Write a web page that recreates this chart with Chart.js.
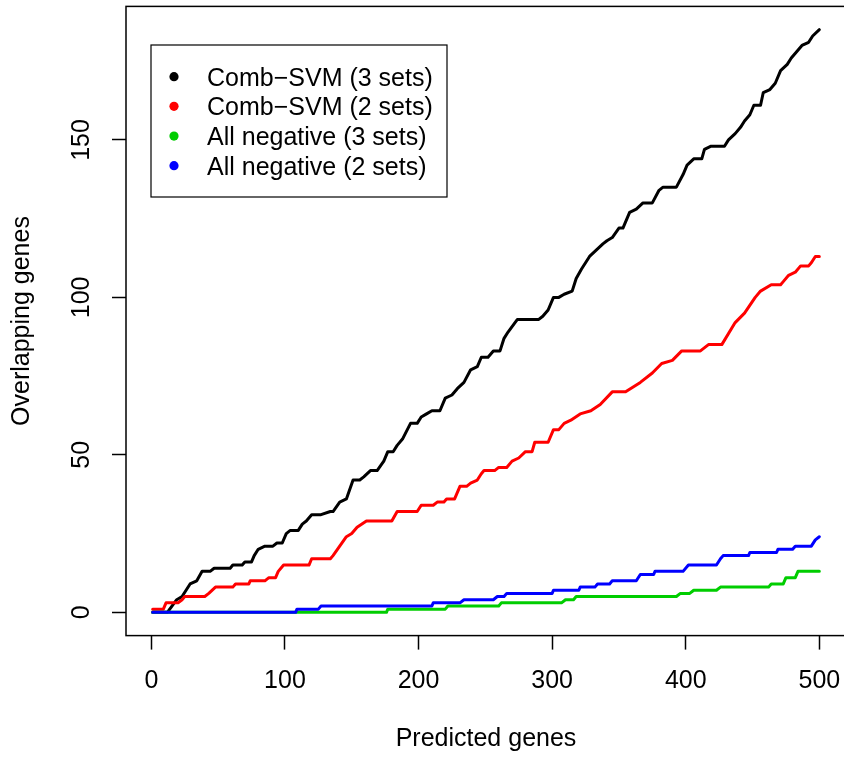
<!DOCTYPE html>
<html>
<head>
<meta charset="utf-8">
<script src="https://cdn.jsdelivr.net/npm/chart.js@4/dist/chart.umd.min.js"></script>
<style>
  html, body { margin: 0; padding: 0; background: #ffffff; overflow: hidden; }
  #wrap { width: 860px; height: 757px; position: relative; }
</style>
</head>
<body>
<div id="wrap"><canvas id="c" width="860" height="757"></canvas></div>
<script>
// ---- data (x = predicted genes, y = overlapping genes) ----
const seriesLabels = ['Comb\u2212SVM (3 sets)', 'Comb\u2212SVM (2 sets)', 'All negative (3 sets)', 'All negative (2 sets)'];

const combSvm3 = [[1,0],[12,0],[19,4],[23,5],[29,9],[34,10],[38,13],[44,13],[47,14],[59,14],[61,15],[68,15],[70,16],[75,16],[77,18],[80,20],[85,21],[91,21],[94,22],[98,22],[101,25],[104,26],[110,26],[113,28],[116,29],[120,31],[127,31],[134,32],[136,32],[141,35],[146,36],[151,42],[156,42],[159,43],[164,45],[169,45],[174,48],[177,51],[181,51],[184,53],[188,55],[194,60],[199,60],[202,62],[206,63],[210,64],[216,64],[220,68],[225,69],[229,71],[234,73],[239,77],[244,78],[247,81],[252,81],[256,83],[261,83],[264,87],[267,89],[274,93],[290,93],[293,94],[297,96],[301,100],[305,100],[309,101],[315,102],[318,106],[322,109],[328,113],[333,115],[338,117],[341,118],[345,119],[350,122],[353,122],[358,127],[363,128],[368,130],[375,130],[380,134],[383,135],[393,135],[398,139],[401,142],[406,144],[412,144],[414,147],[419,148],[429,148],[432,150],[437,152],[441,154],[444,156],[448,158],[451,161],[456,161],[458,165],[463,166],[467,168],[471,172],[476,174],[479,176],[483,178],[487,180],[492,181],[495,183],[500,185]];

const combSvm2 = [[1,1],[9,1],[11,3],[20,3],[23,4],[25,5],[40,5],[43,6],[48,8],[61,8],[63,9],[73,9],[74,10],[85,10],[88,11],[93,11],[95,13],[99,15],[118,15],[120,17],[134,17],[136,18],[141,21],[146,24],[150,25],[154,27],[161,29],[180,29],[184,32],[199,32],[202,34],[211,34],[214,35],[219,35],[221,36],[227,36],[231,40],[236,40],[239,41],[244,42],[247,44],[249,45],[257,45],[260,46],[266,46],[270,48],[275,49],[280,51],[285,51],[287,54],[297,54],[301,58],[305,58],[309,60],[314,61],[321,63],[329,64],[336,66],[345,70],[355,70],[366,73],[375,76],[382,79],[390,80],[397,83],[411,83],[417,85],[427,85],[437,92],[444,95],[452,100],[456,102],[464,104],[471,104],[473,105],[477,107],[482,108],[486,110],[492,110],[494,111],[497,113],[500,113]];

const allNeg3 = [[1,0],[176,0],[177,1],[220,1],[222,2],[260,2],[262,3],[307,3],[310,4],[316,4],[318,5],[393,5],[396,6],[403,6],[406,7],[423,7],[426,8],[462,8],[464,9],[473,9],[475,11],[482,11],[484,13],[500,13]];

const allNeg2 = [[1,0],[108,0],[109,1],[125,1],[127,2],[210,2],[211,3],[231,3],[234,4],[256,4],[259,5],[264,5],[266,6],[300,6],[301,7],[320,7],[321,8],[332,8],[334,9],[343,9],[345,10],[363,10],[366,12],[376,12],[377,13],[398,13],[402,15],[423,15],[426,17],[428,18],[447,18],[448,19],[468,19],[469,20],[480,20],[482,21],[494,21],[497,23],[500,24]];

const xTickValues = [0, 100, 200, 300, 400, 500];
const yTickValues = [0, 50, 100, 150];
const seriesColors = ['#000000', '#FF0000', '#00CD00', '#0000FF'];

// ---- chart ----
const FONT = '"Liberation Sans", Arial, Helvetica, sans-serif';
const FS = 25;
const toXY = arr => arr.map(p => ({x: p[0], y: p[1]}));
const allSeries = [combSvm3, combSvm2, allNeg3, allNeg2];

const boxPlugin = {
  id: 'rbox',
  afterDraw(chart) {
    const {ctx, chartArea: a} = chart;
    ctx.save();
    ctx.strokeStyle = '#000';
    ctx.lineWidth = 1.5;
    ctx.strokeRect(a.left, a.top, a.right - a.left, a.bottom - a.top);
    ctx.restore();
  }
};

const rLegendPlugin = {
  id: 'rlegend',
  afterDraw(chart) {
    const ctx = chart.ctx;
    const x0 = 151, y0 = 45, w = 296, h = 152;
    ctx.save();
    ctx.fillStyle = '#fff';
    ctx.fillRect(x0, y0, w, h);
    ctx.strokeStyle = '#000';
    ctx.lineWidth = 1.2;
    ctx.strokeRect(x0, y0, w, h);
    ctx.font = FS + 'px ' + FONT;
    ctx.textBaseline = 'alphabetic';
    ctx.textAlign = 'left';
    chart.data.datasets.forEach((ds, i) => {
      const cy = 76.7 + i * 29.67;
      ctx.fillStyle = ds.borderColor;
      ctx.beginPath();
      ctx.arc(174, cy, 4.6, 0, Math.PI * 2);
      ctx.fill();
      ctx.fillStyle = '#000';
      ctx.fillText(ds.label, 207, cy + 9);
    });
    ctx.restore();
  }
};

new Chart(document.getElementById('c'), {
  type: 'line',
  data: {
    datasets: allSeries.map((s, i) => ({
      label: seriesLabels[i],
      data: toXY(s),
      borderColor: seriesColors[i],
      backgroundColor: seriesColors[i],
      borderWidth: 3,
      pointRadius: 0,
      tension: 0,
      fill: false,
      borderCapStyle: 'round',
      borderJoinStyle: 'round',
      order: 4 - i
    }))
  },
  options: {
    responsive: false,
    devicePixelRatio: 1,
    animation: false,
    layout: { padding: { top: 6.4, right: 14, bottom: 0, left: 0 } },
    plugins: { legend: { display: false }, tooltip: { enabled: false } },
    scales: {
      x: {
        type: 'linear',
        min: -18.96,
        max: 519.96,
        afterBuildTicks: s => { s.ticks = xTickValues.map(v => ({value: v})); },
        afterFit: s => { s.height = 757 - 635.6; s.paddingLeft = 0; s.paddingRight = 0; },
        border: { display: false },
        grid: { display: true, drawOnChartArea: false, drawTicks: true, tickLength: 14, tickColor: '#000', tickWidth: 1.5 },
        ticks: { color: '#000', font: { family: FONT, size: FS }, padding: 16.9, maxRotation: 0, minRotation: 0, autoSkip: false },
        title: { display: true, text: 'Predicted genes', color: '#000', font: { family: FONT, size: FS }, padding: { top: 0, bottom: 2.4 } }
      },
      y: {
        type: 'linear',
        min: -7.4,
        max: 192.4,
        afterBuildTicks: s => { s.ticks = yTickValues.map(v => ({value: v})); },
        afterFit: s => { s.width = 126; s.paddingTop = 0; s.paddingBottom = 0; },
        border: { display: false },
        grid: { display: true, drawOnChartArea: false, drawTicks: true, tickLength: 14, tickColor: '#000', tickWidth: 1.5 },
        ticks: { color: '#000', font: { family: FONT, size: FS }, padding: 9.2, minRotation: 90, maxRotation: 90, crossAlign: 'center', autoSkip: false },
        title: { display: true, text: 'Overlapping genes', color: '#000', font: { family: FONT, size: FS }, padding: { top: 6.8, bottom: 0 } }
      }
    }
  },
  plugins: [boxPlugin, rLegendPlugin]
});
</script>
</body>
</html>
